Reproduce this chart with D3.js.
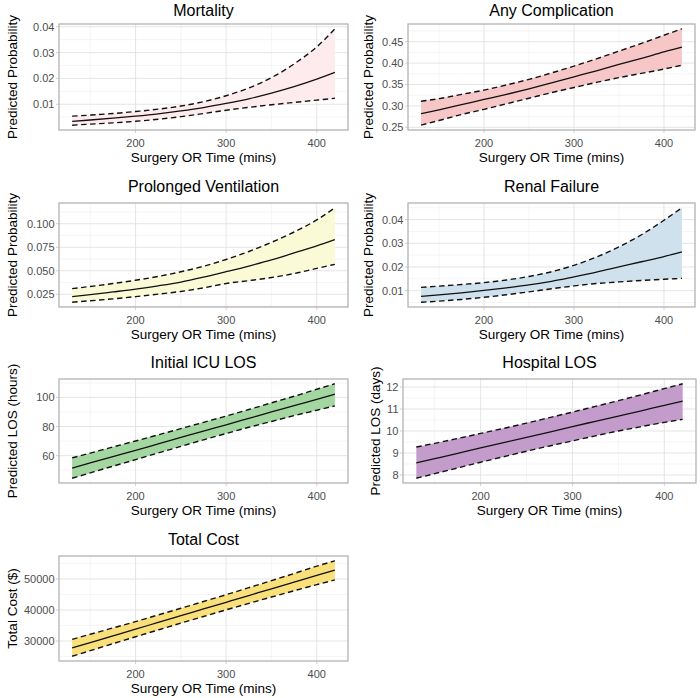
<!DOCTYPE html>
<html>
<head>
<meta charset="utf-8">
<script src="https://cdn.jsdelivr.net/npm/d3@7"></script>
<style>
  body { margin: 0; background: #fff; }
  svg { display: block; font-family: "Liberation Sans", Arial, sans-serif; }
</style>
</head>
<body>
<div id="chart-area"></div>
<script>
const WIDTH = 700;
const HEIGHT = 698;

// surgery OR time (mins) where the curves were read
const orTime = [130, 150, 175, 200, 225, 250, 275, 300, 325, 350, 375, 400, 420];
const xTicks = [200, 300, 400];
const xMinor = [150, 250, 350];

// Mortality
const mortFit   = [0.0034, 0.0039, 0.0046, 0.0054, 0.0063, 0.0074, 0.0087, 0.0103, 0.0121, 0.0143, 0.0168, 0.0197, 0.0223];
const mortLower = [0.0019, 0.0023, 0.0028, 0.0034, 0.0042, 0.0052, 0.0064, 0.0077, 0.0088, 0.0098, 0.0107, 0.0116, 0.0123];
const mortUpper = [0.0054, 0.0058, 0.0064, 0.0072, 0.0081, 0.0093, 0.0110, 0.0133, 0.0163, 0.0203, 0.0256, 0.0322, 0.0392];
const mortTicks = [0.01, 0.02, 0.03, 0.04];

// Any Complication
const compFit   = [0.282, 0.291, 0.303, 0.315, 0.327, 0.340, 0.354, 0.368, 0.382, 0.397, 0.411, 0.426, 0.437];
const compLower = [0.255, 0.266, 0.280, 0.292, 0.305, 0.318, 0.331, 0.343, 0.355, 0.366, 0.376, 0.386, 0.395];
const compUpper = [0.311, 0.317, 0.327, 0.337, 0.349, 0.362, 0.377, 0.393, 0.410, 0.428, 0.446, 0.465, 0.480];
const compTicks = [0.25, 0.30, 0.35, 0.40, 0.45];

// Prolonged Ventilation
const ventFit   = [0.0225, 0.0246, 0.0275, 0.0305, 0.0340, 0.0380, 0.0432, 0.0490, 0.0550, 0.0615, 0.0690, 0.0765, 0.0832];
const ventLower = [0.0165, 0.0181, 0.0201, 0.0225, 0.0252, 0.0280, 0.0318, 0.0365, 0.0395, 0.0428, 0.0470, 0.0525, 0.0568];
const ventUpper = [0.0310, 0.0333, 0.0364, 0.0399, 0.0440, 0.0489, 0.0548, 0.0620, 0.0705, 0.0802, 0.0912, 0.1040, 0.1170];
const ventTicks = [0.025, 0.050, 0.075, 0.100];

// Renal Failure
const renalFit   = [0.0076, 0.0082, 0.0091, 0.0101, 0.0112, 0.0124, 0.0139, 0.0158, 0.0178, 0.0200, 0.0222, 0.0244, 0.0264];
const renalLower = [0.0051, 0.0056, 0.0063, 0.0072, 0.0083, 0.0095, 0.0108, 0.0120, 0.0130, 0.0137, 0.0143, 0.0148, 0.0152];
const renalUpper = [0.0114, 0.0119, 0.0126, 0.0134, 0.0145, 0.0160, 0.0180, 0.0207, 0.0242, 0.0285, 0.0336, 0.0397, 0.0450];
const renalTicks = [0.01, 0.02, 0.03, 0.04];

// Initial ICU LOS (hours)
const icuFit   = [51.5, 55.0, 59.4, 63.7, 68.1, 72.5, 76.9, 81.2, 85.6, 90.0, 94.3, 98.7, 102.2];
const icuLower = [44.5, 48.2, 52.8, 57.3, 61.9, 66.4, 70.9, 75.2, 79.5, 83.5, 87.5, 91.2, 94.2];
const icuUpper = [58.5, 61.8, 66.0, 70.1, 74.3, 78.6, 82.9, 87.2, 91.7, 96.3, 100.8, 105.6, 109.4];
const icuTicks = [60, 80, 100];

// Hospital LOS (days)
const hospFit   = [8.55, 8.74, 8.98, 9.23, 9.47, 9.71, 9.95, 10.20, 10.44, 10.68, 10.92, 11.17, 11.36];
const hospLower = [7.85, 8.06, 8.32, 8.58, 8.83, 9.08, 9.32, 9.55, 9.78, 10.00, 10.20, 10.39, 10.53];
const hospUpper = [9.27, 9.44, 9.66, 9.89, 10.12, 10.36, 10.61, 10.86, 11.12, 11.38, 11.65, 11.93, 12.15];
const hospTicks = [8, 9, 10, 11, 12];

// Total Cost ($)
const costFit   = [27750, 29480, 31650, 33820, 35980, 38150, 40320, 42490, 44660, 46820, 48990, 51160, 52890];
const costLower = [25080, 26880, 29130, 31360, 33560, 35750, 37910, 40040, 42130, 44180, 46200, 48180, 49700];
const costUpper = [30530, 32160, 34200, 36260, 38400, 40550, 42730, 44940, 47190, 49460, 51780, 54130, 55880];
const costTicks = [30000, 40000, 50000];

const panels = [
  {title: "Mortality", ylab: "Predicted Probability", fit: mortFit, lo: mortLower, hi: mortUpper,
   ticks: mortTicks, fmt: ".2f", fill: "#fdebee", box: [59, 24, 348, 130], ytx: 12},
  {title: "Any Complication", ylab: "Predicted Probability", fit: compFit, lo: compLower, hi: compUpper,
   ticks: compTicks, fmt: ".2f", fill: "#f7c6c6", box: [408, 24, 695, 130], ytx: 368},
  {title: "Prolonged Ventilation", ylab: "Predicted Probability", fit: ventFit, lo: ventLower, hi: ventUpper,
   ticks: ventTicks, fmt: ".3f", fill: "#fbfad6", box: [59, 203, 348, 307], ytx: 12},
  {title: "Renal Failure", ylab: "Predicted Probability", fit: renalFit, lo: renalLower, hi: renalUpper,
   ticks: renalTicks, fmt: ".2f", fill: "#d0e1ee", box: [408, 203, 695, 307], ytx: 368},
  {title: "Initial ICU LOS", ylab: "Predicted LOS (hours)", fit: icuFit, lo: icuLower, hi: icuUpper,
   ticks: icuTicks, fmt: "d", fill: "#a3d6a0", box: [59, 379, 348, 483], ytx: 12},
  {title: "Hospital LOS", ylab: "Predicted LOS (days)", fit: hospFit, lo: hospLower, hi: hospUpper,
   ticks: hospTicks, fmt: "d", fill: "#c49ccc", box: [403, 379, 696, 483], ytx: 375},
  {title: "Total Cost", ylab: "Total Cost ($)", fit: costFit, lo: costLower, hi: costUpper,
   ticks: costTicks, fmt: "d", fill: "#f9e07a", box: [59, 556, 348, 661], ytx: 12}
];

const svg = d3.select("#chart-area").append("svg")
    .attr("width", WIDTH)
    .attr("height", HEIGHT);

function expand(lo, hi) {
  const pad = (hi - lo) * 0.05;
  return [lo - pad, hi + pad];
}

panels.forEach(p => {
  const [x0, y0, x1, y1] = p.box;
  const rows = orTime.map((t, i) => ({t: t, fit: p.fit[i], lo: p.lo[i], hi: p.hi[i]}));

  const x = d3.scaleLinear().domain(expand(d3.min(orTime), d3.max(orTime))).range([x0, x1]);
  const y = d3.scaleLinear().domain(expand(d3.min(p.lo), d3.max(p.hi))).range([y1, y0]);

  const g = svg.append("g");

  // minor y breaks halfway between the majors
  const step = p.ticks[1] - p.ticks[0];
  const yMinor = [p.ticks[0] - step / 2].concat(p.ticks.map(v => v + step / 2))
      .filter(v => v > y.domain()[0] && v < y.domain()[1]);

  g.selectAll(".xminor").data(xMinor).join("line")
      .attr("x1", d => x(d)).attr("x2", d => x(d))
      .attr("y1", y0).attr("y2", y1)
      .attr("stroke", "#ebebeb").attr("stroke-width", 0.5);
  g.selectAll(".yminor").data(yMinor).join("line")
      .attr("y1", d => y(d)).attr("y2", d => y(d))
      .attr("x1", x0).attr("x2", x1)
      .attr("stroke", "#ebebeb").attr("stroke-width", 0.5);
  g.selectAll(".xmajor").data(xTicks).join("line")
      .attr("x1", d => x(d)).attr("x2", d => x(d))
      .attr("y1", y0).attr("y2", y1)
      .attr("stroke", "#dedede").attr("stroke-width", 0.8);
  g.selectAll(".ymajor").data(p.ticks).join("line")
      .attr("y1", d => y(d)).attr("y2", d => y(d))
      .attr("x1", x0).attr("x2", x1)
      .attr("stroke", "#dedede").attr("stroke-width", 0.8);

  // confidence ribbon
  g.append("path")
      .datum(rows)
      .attr("fill", p.fill)
      .attr("d", d3.area().curve(d3.curveMonotoneX)
          .x(d => x(d.t)).y0(d => y(d.lo)).y1(d => y(d.hi)));

  const line = key => d3.line().curve(d3.curveMonotoneX).x(d => x(d.t)).y(d => y(d[key]));

  g.append("path").datum(rows)
      .attr("fill", "none").attr("stroke", "#111").attr("stroke-width", 1.3)
      .attr("d", line("fit"));
  ["lo", "hi"].forEach(k => {
    g.append("path").datum(rows)
        .attr("fill", "none").attr("stroke", "#111").attr("stroke-width", 1.4)
        .attr("stroke-dasharray", "5.5,3.5")
        .attr("d", line(k));
  });

  // panel border
  g.append("rect")
      .attr("x", x0).attr("y", y0)
      .attr("width", x1 - x0).attr("height", y1 - y0)
      .attr("fill", "none").attr("stroke", "#b3b3b3").attr("stroke-width", 1.3);

  // axis ticks + labels
  g.selectAll(".xt").data(xTicks).join("line")
      .attr("x1", d => x(d)).attr("x2", d => x(d))
      .attr("y1", y1).attr("y2", y1 + 3)
      .attr("stroke", "#b3b3b3").attr("stroke-width", 0.6);
  g.selectAll(".xl").data(xTicks).join("text")
      .attr("x", d => x(d)).attr("y", y1 + 16.5)
      .attr("text-anchor", "middle")
      .attr("font-size", 11).attr("fill", "#4d4d4d")
      .text(d => d);

  g.selectAll(".yt").data(p.ticks).join("line")
      .attr("y1", d => y(d)).attr("y2", d => y(d))
      .attr("x1", x0 - 3).attr("x2", x0)
      .attr("stroke", "#b3b3b3").attr("stroke-width", 0.6);
  g.selectAll(".yl").data(p.ticks).join("text")
      .attr("x", x0 - 4.5).attr("y", d => y(d))
      .attr("dy", "0.36em")
      .attr("text-anchor", "end")
      .attr("font-size", 11).attr("fill", "#4d4d4d")
      .text(d => d3.format(p.fmt)(d));

  // titles
  g.append("text")
      .attr("x", (x0 + x1) / 2).attr("y", y0 - (y0 < 50 ? 8 : 11.5))
      .attr("text-anchor", "middle")
      .attr("font-size", 16).attr("fill", "#000")
      .text(p.title);
  g.append("text")
      .attr("x", (x0 + x1) / 2).attr("y", y1 + 31.5)
      .attr("text-anchor", "middle")
      .attr("font-size", 13.5).attr("fill", "#000")
      .text("Surgery OR Time (mins)");
  g.append("text")
      .attr("transform", `translate(${p.ytx},${(y0 + y1) / 2}) rotate(-90)`)
      .attr("dy", "0.35em")
      .attr("text-anchor", "middle")
      .attr("font-size", 13.5).attr("fill", "#000")
      .text(p.ylab);
});
</script>
</body>
</html>
